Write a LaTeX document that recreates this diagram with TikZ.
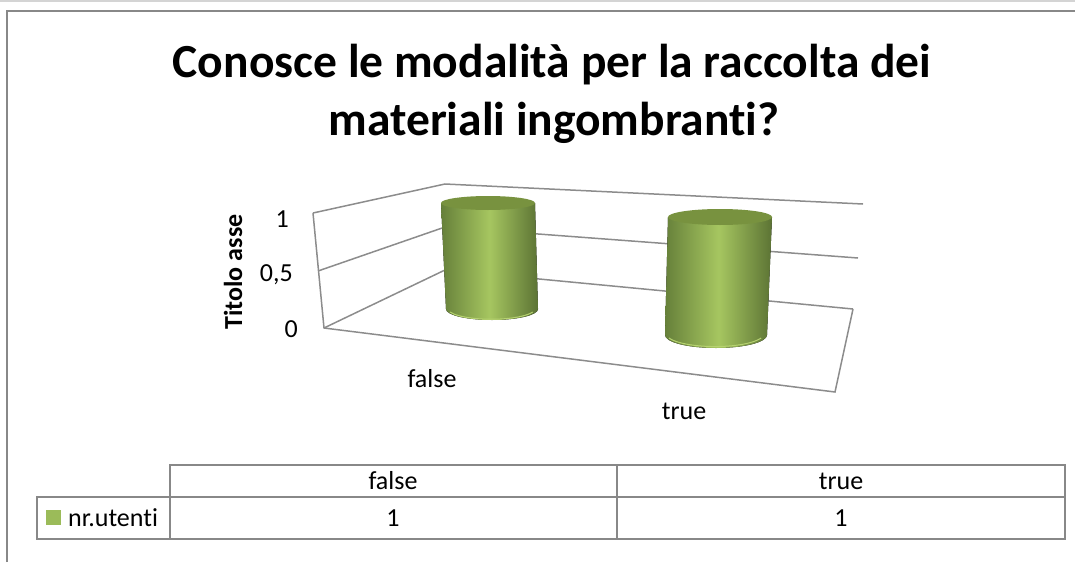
\documentclass[tikz,border=0pt]{standalone}
\usepackage{fontspec}
\setmainfont{Carlito}[Ligatures=NoCommon]
\definecolor{frameGray}{HTML}{888888}
\definecolor{topGray}{HTML}{D4D4D4}
\definecolor{gridGray}{HTML}{8C8C8C}
\definecolor{barDark}{HTML}{66803A}
\definecolor{barLight}{HTML}{A6C660}
\definecolor{barTop}{HTML}{78923F}
\definecolor{barRim}{HTML}{B6D270}
\definecolor{legendGreen}{HTML}{9BBB59}
\newcommand{\labelfont}{\fontsize{26}{31}\selectfont}

\begin{document}
\begin{tikzpicture}[x=1pt,y=-1pt,
    gridline/.style={draw=gridGray, line width=1.5pt},
    tableline/.style={draw=frameGray, line width=2pt},
    label/.style={font=\labelfont, inner sep=0pt}]
\useasboundingbox (0,0) rectangle (1075,562);

% frame
\draw[topGray, line width=2pt](0,1) -- (1075,1);
\draw[frameGray, line width=2pt](7,562) -- (7,11) -- (1075,11);

% title
\node(titleTop)[anchor=base, font=\fontsize{47.5}{57}\bfseries] at (552,77)
    {Conosce le modalità per la raccolta dei};
\node(titleBottom)[anchor=base, font=\fontsize{47.5}{57}\bfseries] at (554,135)
    {materiali ingombranti?};

% walls and floor
\draw[gridline](313,213) -- (445,184) -- (863,204);
\draw[gridline](318,271) -- (445,227) -- (858,258);
\draw[gridline](324,328) -- (445,270) -- (853,309);
\draw[gridline](313,213) -- (324,328) -- (835,392) -- (853,309);

% cylinders
\foreach \tx/\ty/\trx/\try/\bx/\by/\brx/\bry in
    {488/203/47/7/492/309/46/11, 720/217/52/8/716/335/51/13}
{
    \fill[left color=barDark, right color=barDark!90!black, middle color=barLight]
        ({\tx-\trx},\ty) -- ({\bx-\brx},\by)
        arc[start angle=180, end angle=0, x radius=\brx, y radius=\bry]
        -- ({\tx+\trx},\ty) -- cycle;
    \draw[barRim, line width=1pt]({\bx-\brx+4},{\by+3})
        arc[start angle=160, end angle=20, x radius={\brx-2}, y radius=\bry];
    \fill[barTop](\tx,\ty) ellipse[x radius=\trx, y radius=\try];
}

% axis labels
\node(axisTitle)[label, rotate=90, font=\labelfont\bfseries] at (233,272)
    {Titolo asse};
\node(tickOne)[label, anchor=east] at (289,219) {1};
\node(tickHalf)[label, anchor=east] at (293,275) {0,5};
\node(tickZero)[label, anchor=east] at (298,329) {0};
\node(catFalse)[label] at (432,379) {false};
\node(catTrue)[label] at (684,411) {true};

% data table
\draw[tableline](170,497) -- (170,465) -- (1065,465) -- (1065,539) --
    (37,539) -- (37,497) -- (1065,497);
\draw[tableline](170,497) -- (170,539);
\draw[tableline](617,465) -- (617,539);
\fill[legendGreen](46,510) rectangle (61,525);
\node(seriesName)[label, anchor=west] at (68,518) {nr.utenti};
\node(headFalse)[label] at (393,481) {false};
\node(headTrue)[label] at (841,481) {true};
\node(valFalse)[label] at (393,518) {1};
\node(valTrue)[label] at (841,518) {1};

\end{tikzpicture}
\end{document}
